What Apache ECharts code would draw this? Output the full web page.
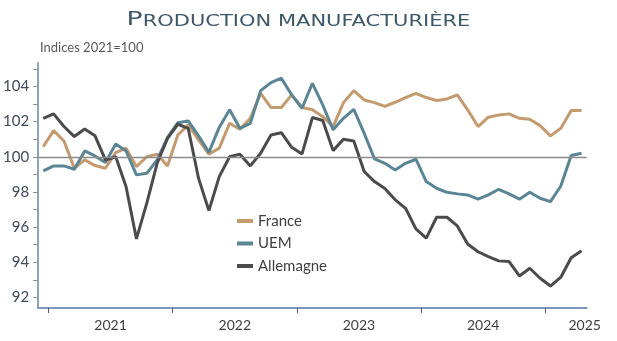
<!DOCTYPE html>
<html>
<head>
<meta charset="utf-8">
<script src="https://cdn.jsdelivr.net/npm/echarts@6/dist/echarts.min.js"></script>
<style>html,body{margin:0;padding:0;background:#fff;}#c{width:617px;height:341px;}</style>
</head>
<body>
<div id="c"></div>
<script>
// Monthly categories, Dec 2020 to Apr 2025
const months = [
 '2020-12',
 '2021-01','2021-02','2021-03','2021-04','2021-05','2021-06','2021-07','2021-08','2021-09','2021-10','2021-11','2021-12',
 '2022-01','2022-02','2022-03','2022-04','2022-05','2022-06','2022-07','2022-08','2022-09','2022-10','2022-11','2022-12',
 '2023-01','2023-02','2023-03','2023-04','2023-05','2023-06','2023-07','2023-08','2023-09','2023-10','2023-11','2023-12',
 '2024-01','2024-02','2024-03','2024-04','2024-05','2024-06','2024-07','2024-08','2024-09','2024-10','2024-11','2024-12',
 '2025-01','2025-02','2025-03','2025-04'
];
const france = [
 100.58,101.49,100.90,99.35,99.82,99.50,99.35,100.24,100.49,99.44,
 100.00,100.15,99.48,101.24,101.81,100.96,100.15,100.49,101.90,101.57,
 102.19,103.61,102.80,102.80,103.52,102.80,102.67,102.28,101.72,103.08,
 103.76,103.23,103.08,102.87,103.10,103.37,103.61,103.37,103.20,103.29,
 103.52,102.67,101.72,102.25,102.38,102.44,102.19,102.13,101.77,101.19,
 101.62,102.63,102.63
];
const uem = [
 99.20,99.48,99.48,99.29,100.33,100.05,99.67,100.73,100.33,98.97,
 99.06,99.82,101.09,101.94,102.04,101.19,100.25,101.67,102.67,101.62,
 101.90,103.76,104.22,104.47,103.52,102.76,104.18,102.95,101.53,102.19,
 102.70,101.34,99.88,99.63,99.25,99.63,99.86,98.59,98.21,97.98,
 97.89,97.83,97.59,97.83,98.15,97.89,97.59,97.98,97.64,97.45,
 98.34,100.07,100.20
];
const allemagne = [
 102.19,102.44,101.72,101.15,101.58,101.19,99.82,100.00,98.30,95.33,
 97.36,99.63,101.05,101.85,101.62,98.78,96.94,98.87,100.00,100.15,
 99.48,100.20,101.24,101.37,100.54,100.16,102.23,102.06,100.35,101.00,
 100.90,99.16,98.59,98.20,97.55,97.07,95.90,95.37,96.56,96.56,
 96.07,95.04,94.60,94.32,94.08,94.04,93.22,93.66,93.09,92.65,
 93.15,94.26,94.66
];
const yearLabels = ['2021','2022','2023','2024','2025'];
const yearLabelPos = [7, 19, 31, 43, 52.8];   // positions along the month band axis
const yearTickPos = [1, 13, 25, 37, 49];
const yTicks = [92,93,94,95,96,97,98,99,100,101,102,103,104,105];
const yLabels = [92,94,96,98,100,102,104];
const refLevel = 100;

const chart = echarts.init(document.getElementById('c'), null, {renderer:'canvas'});
const font = 'Lato, "Open Sans", sans-serif';
chart.setOption({
  animation: false,
  backgroundColor: '#ffffff',
  graphic: [{
    type: 'text', x: 298.5, y: 20, scaleX: 1.4, scaleY: 1, silent: true,
    style: {
      x: 0, y: 0, align: 'center', verticalAlign: 'middle',
      text: '{a|P}{b|RODUCTION MANUFACTURIÈRE}',
      rich: {
        a: {fontFamily: '"DejaVu Sans", sans-serif', fontSize: 19, fill: '#3f5869', color: '#3f5869', verticalAlign: 'bottom'},
        b: {fontFamily: '"DejaVu Sans", sans-serif', fontSize: 15, fill: '#3f5869', color: '#3f5869', verticalAlign: 'bottom'}
      }
    }
  }],
  title: [{
    text: 'Indices 2021=100',
    left: 40, top: 41, padding: 0,
    textStyle: {fontFamily: font, fontSize: 13, color: '#595959', fontWeight: 'normal'}
  }],
  legend: {
    orient: 'vertical', left: 237, top: 213, padding: 0,
    itemWidth: 16, itemHeight: 4, itemGap: 6.5, icon: 'rect',
    textStyle: {fontFamily: font, fontSize: 15, color: '#404040', lineHeight: 16},
    data: ['France','UEM','Allemagne']
  },
  grid: {left: 37.3, right: 30.3, top: 62.7, bottom: 33, containLabel: false},
  xAxis: [{
    type: 'category', data: months, boundaryGap: true,
    axisLine: {lineStyle: {color: '#7d98bd', width: 2}},
    axisTick: {show: false}, axisLabel: {show: false}, splitLine: {show: false}
  }, {
    type: 'value', min: 0, max: months.length, position: 'bottom',
    axisLine: {show: false},
    axisTick: {show: true, customValues: yearTickPos, length: 5, lineStyle: {color: '#595959', width: 1}},
    axisLabel: {
      customValues: yearLabelPos, margin: 10, hideOverlap: false,
      fontFamily: font, fontSize: 14, color: '#404040',
      formatter: function (v) { const k = yearLabelPos.indexOf(v); return k >= 0 ? yearLabels[k] : ''; }
    },
    splitLine: {show: false}
  }],
  yAxis: {
    type: 'value', min: 91.4, max: 105.35,
    axisLine: {show: true, lineStyle: {color: '#8ca5c6', width: 2}},
    axisTick: {show: true, customValues: yTicks, length: 5, lineStyle: {color: '#8c8c8c', width: 1}},
    axisLabel: {customValues: yLabels, margin: 9, fontFamily: font, fontSize: 15, color: '#3d4b5a'},
    splitLine: {show: false}
  },
  series: [{
    name: 'France', type: 'line', data: france, xAxisIndex: 0,
    symbol: 'none', lineStyle: {color: '#c49a6e', width: 3}, itemStyle: {color: '#c49a6e'},
    markLine: {
      silent: true, symbol: 'none', label: {show: false},
      lineStyle: {color: '#8a8a8a', width: 1.3, type: 'solid'},
      data: [{yAxis: refLevel}]
    }
  }, {
    name: 'UEM', type: 'line', data: uem, xAxisIndex: 0,
    symbol: 'none', lineStyle: {color: '#5a8594', width: 3}, itemStyle: {color: '#5a8594'}
  }, {
    name: 'Allemagne', type: 'line', data: allemagne, xAxisIndex: 0,
    symbol: 'none', lineStyle: {color: '#4b4b4d', width: 3}, itemStyle: {color: '#4b4b4d'}
  }]
});
</script>
</body>
</html>
